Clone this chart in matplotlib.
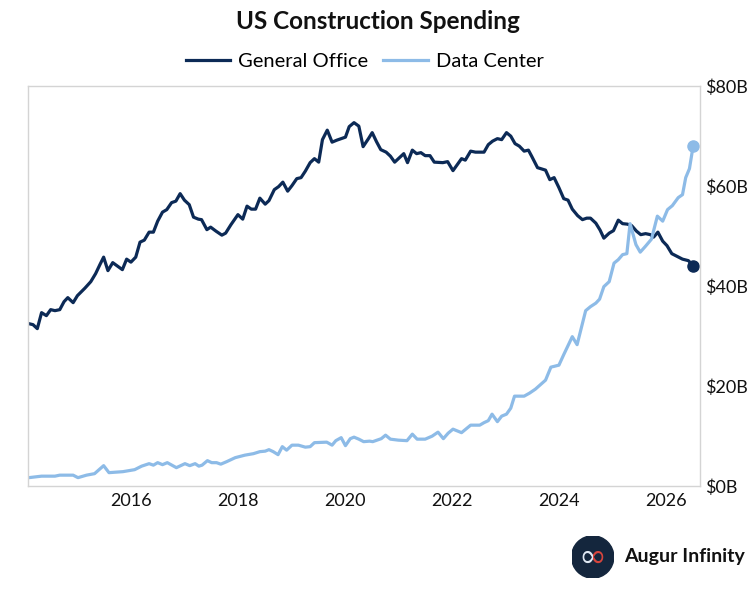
import numpy as np
import matplotlib.pyplot as plt
from matplotlib.patches import Circle, Rectangle

# values (decimal year, $B)
office_t = [2014.09, 2014.17, 2014.25, 2014.33, 2014.42, 2014.50, 2014.58, 2014.67, 2014.75, 2014.82,
            2014.92, 2015.00, 2015.14, 2015.25, 2015.34, 2015.42, 2015.49, 2015.57, 2015.66, 2015.75,
            2015.84, 2015.92, 2016.00, 2016.09, 2016.17, 2016.25, 2016.34, 2016.42, 2016.50, 2016.59,
            2016.67, 2016.76, 2016.84, 2016.92, 2017.00, 2017.09, 2017.17, 2017.26, 2017.32, 2017.42,
            2017.49, 2017.59, 2017.70, 2017.77, 2017.87, 2018.00, 2018.09, 2018.17, 2018.25, 2018.33,
            2018.41, 2018.51, 2018.58, 2018.68, 2018.76, 2018.84, 2018.93, 2019.01, 2019.10, 2019.18,
            2019.26, 2019.35, 2019.43, 2019.51, 2019.58, 2019.67, 2019.76, 2019.85, 2020.01, 2020.08,
            2020.17, 2020.26, 2020.34, 2020.44, 2020.51, 2020.59, 2020.67, 2020.77, 2020.85, 2020.93,
            2021.00, 2021.10, 2021.17, 2021.26, 2021.34, 2021.42, 2021.50, 2021.59, 2021.67, 2021.83,
            2021.92, 2022.02, 2022.10, 2022.18, 2022.25, 2022.35, 2022.44, 2022.60, 2022.68, 2022.76,
            2022.85, 2022.93, 2023.02, 2023.10, 2023.18, 2023.26, 2023.35, 2023.43, 2023.49, 2023.60,
            2023.75, 2023.83, 2023.91, 2024.00, 2024.09, 2024.17, 2024.25, 2024.35, 2024.44, 2024.52,
            2024.59, 2024.69, 2024.77, 2024.84, 2024.94, 2025.02, 2025.11, 2025.19, 2025.28, 2025.36,
            2025.45, 2025.53, 2025.62, 2025.71, 2025.77, 2025.85, 2025.94, 2026.02, 2026.11, 2026.20,
            2026.31, 2026.42, 2026.51]
office_v = [32.5, 32.3, 31.5, 34.7, 34.1, 35.3, 35.1, 35.3, 36.9, 37.7,
            36.7, 38.1, 39.6, 40.9, 42.5, 44.3, 45.8, 43.1, 44.7, 44.0,
            43.3, 45.4, 44.8, 45.8, 48.8, 49.2, 50.8, 50.8, 53.0, 54.8,
            55.3, 56.7, 57.0, 58.5, 57.2, 56.3, 53.8, 53.4, 53.3, 51.3,
            51.8, 51.0, 50.2, 50.6, 52.3, 54.3, 53.4, 56.0, 55.4, 55.4,
            57.6, 56.4, 57.1, 59.3, 59.9, 60.8, 59.0, 60.1, 61.5, 61.7,
            63.0, 64.7, 65.5, 64.8, 69.3, 71.2, 68.8, 69.2, 69.8, 71.9,
            72.7, 72.0, 67.9, 69.5, 70.7, 68.9, 67.3, 66.8, 66.0, 64.8,
            65.5, 66.5, 64.7, 67.2, 66.5, 66.7, 66.1, 66.1, 64.8, 64.7,
            64.9, 63.1, 64.3, 65.5, 65.2, 67.0, 66.8, 66.8, 68.3, 69.0,
            69.5, 69.3, 70.7, 70.0, 68.5, 68.0, 67.0, 67.2, 66.0, 63.7,
            63.2, 61.3, 61.7, 59.7, 57.5, 57.2, 55.4, 54.1, 53.3, 53.6,
            53.6, 52.6, 51.2, 49.6, 50.6, 51.1, 53.2, 52.5, 52.4, 52.1,
            51.0, 50.3, 50.5, 50.3, 49.8, 50.8, 49.0, 48.1, 46.5, 46.0,
            45.4, 45.1, 44.1]

dc_t = [2014.09, 2014.33, 2014.58, 2014.67, 2014.92, 2015.01, 2015.17, 2015.32, 2015.49, 2015.59,
        2015.85, 2016.07, 2016.20, 2016.34, 2016.42, 2016.50, 2016.59, 2016.68, 2016.85, 2017.01,
        2017.10, 2017.20, 2017.27, 2017.33, 2017.43, 2017.51, 2017.60, 2017.68, 2017.79, 2017.95,
        2018.13, 2018.29, 2018.41, 2018.51, 2018.58, 2018.66, 2018.75, 2018.83, 2018.91, 2019.01,
        2019.13, 2019.26, 2019.35, 2019.43, 2019.66, 2019.76, 2019.83, 2019.93, 2020.01, 2020.10,
        2020.17, 2020.26, 2020.35, 2020.46, 2020.52, 2020.60, 2020.68, 2020.76, 2020.85, 2021.00,
        2021.16, 2021.26, 2021.35, 2021.50, 2021.63, 2021.74, 2021.84, 2021.93, 2022.02, 2022.18,
        2022.35, 2022.52, 2022.60, 2022.68, 2022.75, 2022.85, 2022.93, 2023.02, 2023.10, 2023.17,
        2023.35, 2023.45, 2023.56, 2023.75, 2023.85, 2024.00, 2024.09, 2024.25, 2024.34, 2024.50,
        2024.59, 2024.69, 2024.76, 2024.84, 2024.94, 2025.03, 2025.11, 2025.19, 2025.27, 2025.33,
        2025.44, 2025.52, 2025.62, 2025.73, 2025.84, 2025.94, 2026.03, 2026.12, 2026.23, 2026.31,
        2026.37, 2026.44, 2026.51]
dc_v = [1.7, 2.0, 2.0, 2.2, 2.2, 1.7, 2.2, 2.5, 4.1, 2.7,
        2.9, 3.3, 4.0, 4.5, 4.2, 4.7, 4.3, 4.7, 3.7, 4.5,
        4.1, 4.5, 4.0, 4.2, 5.1, 4.7, 4.7, 4.4, 4.9, 5.7,
        6.2, 6.5, 6.9, 7.0, 7.3, 6.9, 6.3, 7.9, 7.2, 8.2,
        8.2, 7.8, 7.9, 8.7, 8.8, 8.2, 9.1, 9.7, 8.1, 9.5,
        9.8, 9.4, 8.9, 9.0, 8.9, 9.2, 9.5, 10.2, 9.4, 9.2,
        9.1, 10.4, 9.4, 9.4, 10.0, 10.8, 9.5, 10.6, 11.4, 10.7,
        12.2, 12.2, 12.7, 13.1, 14.4, 12.9, 14.0, 14.4, 15.6, 18.0,
        18.0, 18.6, 19.4, 21.2, 23.8, 24.2, 26.3, 29.9, 28.3, 35.1,
        35.9, 36.6, 37.4, 39.9, 40.9, 44.6, 45.3, 46.3, 46.5, 52.5,
        48.3, 46.8, 48.0, 49.4, 54.0, 53.0, 55.3, 56.1, 57.7, 58.3,
        61.7, 63.5, 68.1]

years = [2016, 2018, 2020, 2022, 2024, 2026]
yticks = [0, 20, 40, 60, 80]

navy = '#0c2a56'
light = '#8dbbe7'

plt.rcParams['font.family'] = ['Lato', 'DejaVu Sans']

fig = plt.figure(figsize=(7.55, 5.9), dpi=100)
ax = fig.add_axes([0.037, 0.176, 0.890, 0.678])

ax.plot(office_t, office_v, color=navy, lw=2.3, label='General Office')
ax.plot(dc_t, dc_v, color=light, lw=2.3, label='Data Center')
ax.plot(office_t[-1], office_v[-1], 'o', color=navy, ms=8)
ax.plot(dc_t[-1], dc_v[-1], 'o', color=light, ms=8)

ax.set_xlim(2014.075, 2026.635)
ax.set_ylim(0, 80)
ax.set_xticks(years)
ax.set_xticklabels([str(y) for y in years])
ax.set_yticks(yticks)
ax.set_yticklabels(['$%dB' % v for v in yticks])
ax.yaxis.tick_right()
ax.tick_params(length=0, labelsize=13, colors='#111111')
ax.tick_params(axis='y', pad=4)
ax.tick_params(axis='x', pad=5)
for s in ax.spines.values():
    s.set_color('#d4d4d4')
    s.set_linewidth(1.0)

fig.text(0.5, 0.963, 'US Construction Spending', ha='center', va='center',
         fontsize=17.5, fontweight='bold', color='#111111')
fig.legend(handles=ax.get_lines()[:2], loc='center', bbox_to_anchor=(0.483, 0.896),
           ncol=2, frameon=False, fontsize=14.5, handlelength=2.2, columnspacing=0.75,
           handletextpad=0.4)

# logo
logo = fig.add_axes([0.757, 0.02, 0.056, 0.072])
logo.set_xlim(-1, 1)
logo.set_ylim(-1, 1)
logo.set_aspect('equal')
logo.axis('off')
logo.add_patch(Circle((0, 0), 1, color='#14263d'))
left_half = Rectangle((-1, -1), 1, 2, transform=logo.transData)
right_half = Rectangle((0, -1), 1, 2, transform=logo.transData)
inf_l = logo.text(0, 0.0, '\u221e', color='#dfe8f3', fontsize=24, ha='center', va='center',
                  family='DejaVu Sans', clip_on=True)
inf_l.set_clip_path(left_half)
inf_r = logo.text(0, 0.0, '\u221e', color='#d6453d', fontsize=24, ha='center', va='center',
                  family='DejaVu Sans', clip_on=True)
inf_r.set_clip_path(right_half)
fig.text(0.827, 0.056, 'Augur Infinity', fontsize=14, fontweight='bold',
         color='#111111', va='center', ha='left')

fig.savefig('out.png', dpi=100)
